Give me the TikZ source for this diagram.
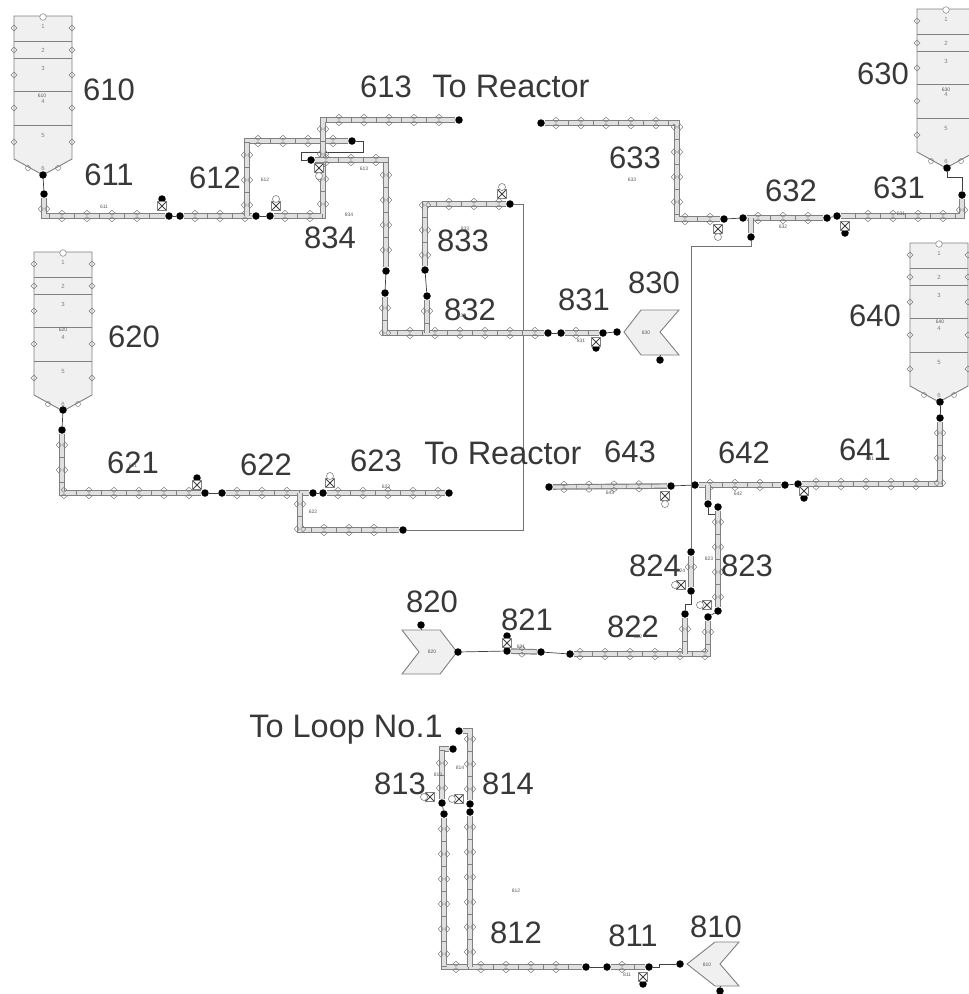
\documentclass[tikz,border=0pt]{standalone}
\usepackage{fontspec}
\setmainfont{Liberation Sans}
\usetikzlibrary{decorations.markings}
\definecolor{rail}{gray}{0.50}
\definecolor{railin}{gray}{0.88}
\definecolor{hopfill}{gray}{0.94}
\definecolor{labtext}{gray}{0.22}
\tikzset{
  lab/.style={font=\fontsize{31}{31}\selectfont,text=labtext,inner sep=0pt},
  labw/.style={font=\fontsize{32.5}{32.5}\selectfont,text=labtext,inner sep=0pt},
  tiny/.style={font=\fontsize{5}{5}\selectfont,text=black!65,inner sep=0pt},
  secnum/.style={font=\fontsize{6}{6}\selectfont,text=gray,inner sep=0pt},
  bdot/.style={circle,fill=black,draw=none,minimum size=7.5pt,inner sep=0pt},
  ring/.style={circle,draw=rail,fill=white,line width=.6pt,minimum size=7pt,inner sep=0pt},
  vbox/.style={rectangle,draw=rail,fill=white,line width=.5pt,minimum size=9pt,inner sep=0pt,
    path picture={\draw[black!75,line width=.8pt]
      (path picture bounding box.north west)--(path picture bounding box.south east)
      (path picture bounding box.north east)--(path picture bounding box.south west);}},
  thinl/.style={draw=black!75,line width=.7pt},
  longl/.style={draw=black!55,line width=.8pt},
  mk/.style={draw=rail,line width=.5pt},
  pipe/.style={draw=railin,line width=3.2pt,line join=miter,
    preaction={draw=rail,line width=5.6pt},
    postaction={decorate,decoration={markings,
      mark=between positions 11pt and -5pt step 25pt with {
        \draw[mk] (-3,3.2)--(0,5.7)--(3,3.2)--(0,.7)--cycle;
        \draw[mk] (-3,-3.2)--(0,-5.7)--(3,-3.2)--(0,-.7)--cycle;}}},
    postaction={decorate,decoration={markings,
      mark=between positions 23.5pt and -8pt step 25pt with {
        \draw[mk] (0,-2.5)--(0,2.5);}}}},
  wall/.style={draw=rail,fill=hopfill,line width=.9pt},
  secl/.style={draw=rail,line width=.6pt}
}
\newcommand{\hopper}[2]{%
  \begin{scope}[shift={(#1,#2)}]
    \draw[wall] (0,0)--(58,0)--(58,143)--(29,159)--(0,143)--cycle;
    \foreach \yy in {25,42,75,109} \draw[secl] (0,\yy)--(58,\yy);
    \foreach \yy in {12,34,59,92,126} {
      \draw[mk] (-3,\yy)--(0,\yy-3)--(3,\yy)--(0,\yy+3)--cycle;
      \draw[mk] (55,\yy)--(58,\yy-3)--(61,\yy)--(58,\yy+3)--cycle;}
    \draw[mk] (14,152) circle (2.5);
    \draw[mk] (44,152) circle (2.5);
    \draw[mk,fill=white] (29,1) circle (3.3);
    \node[secnum] at (29,10) {1};
    \node[secnum] at (29,34) {2};
    \node[secnum] at (29,52) {3};
    \node[secnum] at (29,85) {4};
    \node[secnum] at (29,119) {5};
    \node[secnum] at (29,152) {6};
  \end{scope}}
\begin{document}
\begin{tikzpicture}[x=1pt,y=-1pt]
\path[use as bounding box,fill=white] (0,0) rectangle (969,994);
\clip (0,0) rectangle (969,994);

% hoppers and feeders
\hopper{14}{16}
\hopper{34}{252}
\hopper{917}{9}
\hopper{910}{243}
\draw[wall] (402,630)--(440,630)--(457,652)--(440,674)--(402,674)--(419,652)--cycle;
\draw[wall] (641,310)--(679,310)--(660,332)--(679,355)--(641,355)--(624,332)--cycle;
\draw[wall] (715,942)--(739,942)--(720,964)--(739,986)--(715,986)--(687,964)--cycle;

% junction dots
\foreach \n/\x/\y in {
 d610/43/175,d611a/44/194,d611b/169/216,dv611/162/199,d612a/180/216,d612b/256/216,d612c/352/141,
 d834a/270/216,d834b/459/120,d613a/311/160,d613b/386/271,d832a/385/293,d832b/548/333,d832c/427/296,
 d833a/425/270,d833b/510/204,d622c/403/530,d831a/561/333,d831b/603/333,dv831/596/348,d830a/617/332,d830b/660/360,
 d620/63/410,d621a/62/430,d621b/205/493,dv621/197/478,d622a/222/493,d622b/313/493,d623a/323/493,d623b/449/493,
 d630/947/168,d631a/962/195,d631c/837/216,dv631/845/233,d632a/827/218,d632b/743/218,d632c/751/237,
 d633a/724/219,d633b/541/123,d640/940/402,d641a/940/418,d641b/798/484,dv641/804/498,d642a/785/485,d642b/695/485,d642c/708/504,
 d643a/671/486,d643b/549/487,d823a/718/507,d823b/718/611,d822a/708/617,d822b/570/654,d822c/685/614,d824a/691/552,d824b/691/591,
 d820a/458/652,d820b/421/625,d821a/507/651,d821b/541/652,dv821/507/636,
 d810a/680/964,d810b/720/991,d811a/649/967,d811b/607/967,dv811/643/984,d812a/586/967,d812b/444/814,d812c/470/812,
 d813a/442/803,d813b/453/749,d814a/470/804,d814b/459/731}
  \node[bdot] (\n) at (\x,\y) {};

% bends and tees
\foreach \n/\x/\y in {
 j612/247/216,c834/323/120,t1/363/152,t2/301/160,j832/427/333,t3/523/530,j622/300/493,
 t5/962/177,j632/751/218,c633/677/123,t6/691/246,j642/708/485,t7/718/514,j822/685/654,t8/691/604,j812/470/967,
 t9/659/964,s830/660/355,s820/421/630,s810/720/986}
  \coordinate (\n) at (\x,\y);

% thin connectors
\draw[thinl] (d610)--(d611a);
\draw[thinl] (d612a)--(d611b);
\draw[thinl] (d612b)--(d834a);
\draw[thinl] (d612c)-|(t1)-|(t2)--(d613a);
\draw[thinl] (d613b)--(d832a);
\draw[thinl] (d832c)--(d833a);
\draw[thinl] (d832b)--(d831a);
\draw[thinl] (d831b)--(d830a);
\draw[thinl] (d830b)--(s830);
\draw[thinl] (d620)--(d621a);
\draw[thinl] (d621b)--(d622a);
\draw[thinl] (d622b)--(d623a);
\draw[thinl] (d630)|-(t5)--(d631a);
\draw[thinl] (d632a)--(d631c);
\draw[thinl] (d633a)--(d632b);
\draw[thinl] (d640)--(d641a);
\draw[thinl] (d641b)--(d642a);
\draw[thinl] (d642b)--(d643a);
\draw[thinl] (d642c)|-(t7)--(d823a);
\draw[thinl] (d823b)--(d822a);
\draw[thinl] (d822c)|-(t8)--(d824b);
\draw[thinl] (d820a)--(d821a);
\draw[thinl] (d820b)--(s820);
\draw[thinl] (d821b)--(d822b);
\draw[thinl] (d811a)-|(t9)--(d810a);
\draw[thinl] (d810b)--(s810);
\draw[thinl] (d812a)--(d811b);
\draw[thinl] (d813a)--(d812b);
\draw[thinl] (d814a)--(d812c);
\draw[longl] (d833b)-|(t3)--(d622c);
\draw[longl] (d632c)|-(t6)--(d824a);

% pipes
\draw[pipe] (d611a)|-(d611b);
\draw[pipe] (d612a)--(d612b);
\draw[pipe] (j612)|-(d612c);
\draw[pipe] (d834a)-|(c834)--(d834b);
\draw[pipe] (d613a)-|(d613b);
\draw[pipe] (d832a)|-(d832b);
\draw[pipe] (d832c)--(j832);
\draw[pipe] (d833a)|-(d833b);
\draw[pipe] (d831a)--(d831b);
\draw[pipe] (d621a)|-(d621b);
\draw[pipe] (d622a)--(d622b);
\draw[pipe] (j622)|-(d622c);
\draw[pipe] (d623a)--(d623b);
\draw[pipe] (d631a)|-(d631c);
\draw[pipe] (d632b)--(d632a);
\draw[pipe] (j632)--(d632c);
\draw[pipe] (d633b)--(c633)|-(d633a);
\draw[pipe] (d641a)|-(d641b);
\draw[pipe] (d642b)--(d642a);
\draw[pipe] (j642)--(d642c);
\draw[pipe] (d643b)--(d643a);
\draw[pipe] (d823a)--(d823b);
\draw[pipe] (d822a)|-(d822b);
\draw[pipe] (d822c)--(j822);
\draw[pipe] (d824a)--(d824b);
\draw[pipe] (d821a)--(d821b);
\draw[pipe] (d811b)--(d811a);
\draw[pipe] (d812b)|-(d812a);
\draw[pipe] (d812c)--(j812);
\draw[pipe] (d813a)|-(d813b);
\draw[pipe] (d814a)|-(d814b);

% valves
\foreach \n/\x/\y in {
 v611/162/206,v834/276/206,v613/319/168,v833/502/194,v831/596/342,v621/197/485,v623/330/483,
 v631/845/226,v633/718/229,v641/804/491,v643/665/496,v823/707/605,v824/681/585,v821/507/643,v811/643/977,
 v813/430/797,v814/459/799}
  \node[vbox] (\n) at (\x,\y) {};
\foreach \n/\x/\y in {
 r834/276/199,r613/319/176,r833/502/187,r623/330/476,r633/718/237,r643/665/504,r823/700/605,r824/675/585,
 r813/424/797,r814/452/799}
  \node[ring] (\n) at (\x,\y) {};

% large labels
\foreach \n/\x/\y/\t in {
 l610/109/90/610,l611/109/175/611,l612/215/178/612,l613/386/87/613,l630/883/74/630,l633/635/158/633,
 l632/791/191/632,l631/899/188/631,l834/330/238/834,l833/463/241/833,l832/470/310/832,l831/584/300/831,
 l830/654/283/830,l620/134/337/620,l640/875/316/640,l621/133/463/621,l622/266/465/622,l623/376/461/623,
 l643/630/452/643,l642/744/453/642,l641/865/450/641,l824/655/566/824,l823/747/566/823,l820/432/602/820,
 l821/527/620/821,l822/633/627/822,l813/400/784/813,l814/508/784/814,l812/516/933/812,l811/633/936/811,l810/716/927/810}
  \node[lab] (\n) at (\x,\y) {\t};
\node[labw] (lreactora) at (511,86) {To Reactor};
\node[labw] (lreactorb) at (503,453) {To Reactor};
\node[labw] (lloop) at (346,730) {To Loop No.1};

% small labels
\foreach \n/\x/\y/\t in {
 s611/104/207/611,s612/265/180/612,s613/364/169/613,s834/349/215/834,s833/465/229/833,s832/462/316/832,
 s831/581/341/831,s830/646/333/830,s633/632/180/633,s632/783/227/632,s631/901/214/631,s610/42/96/610,
 s620/63/330/620,s640/940/322/640,s630/946/90/630,s622/313/512/622,s623/386/487/623,s643/610/493/643,
 s642/738/494/642,s641/870/459/641,s621/133/466/621,s824/681/571/824,s823/709/559/823,s820/432/652/820,
 s821/521/647/821,s822/638/637/822,s814/460/768/814,s813/438/775/813,s812/516/891/812,s811/627/975/811,s810/707/965/810}
  \node[tiny] (\n) at (\x,\y) {\t};
\end{tikzpicture}
\end{document}
